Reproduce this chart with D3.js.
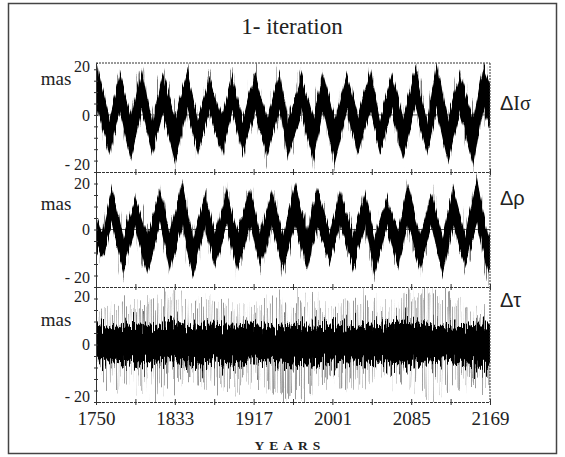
<!DOCTYPE html>
<html>
<head>
<meta charset="utf-8">
<script src="https://cdn.jsdelivr.net/npm/d3@7"></script>
<style>
  body { margin: 0; background: #fff; }
  svg text { font-family: "Liberation Serif", "DejaVu Serif", serif; fill: #222; }
</style>
</head>
<body>
<svg id="chart"></svg>
<script>
// ---- values ----
// panel 1 (ΔIσ): turning points of the band, top and bottom edge of the black band (mas)
const isYears = [1750, 1752, 1764, 1775.5, 1787, 1799, 1809.5, 1821, 1834, 1847, 1858.5, 1871, 1884, 1895.5, 1906, 1919, 1932,
  1945.5, 1954, 1969, 1981, 1991.5, 2004, 2017, 2028.5, 2041.5, 2052, 2065, 2076.5, 2089.5, 2102, 2112.5, 2124.5, 2137, 2151, 2161.5, 2169];
const isTop = [12, 16, -1.5, 14.5, -1, 16, -2, 15, -1, 15.5, -1.5, 13, -0.5, 14, -1.5, 15.5, -1,
  16, -2, 14, -1, 15, -1.5, 14, -0.5, 16, -1.5, 15, -1, 16, -2, 18.5, -1, 15, -1.5, 17, 10];
const isBot = [-2, 1.5, -14, 1, -16, 2, -14, 0.5, -17, 1.5, -14, 1, -14, 1.5, -14, 1, -14.5,
  2, -15, 0.5, -16.5, 1.5, -17, 1, -14, 1.5, -13.5, 1, -16, 2, -14, 1.5, -17, 1, -18, 2, -6];

// panel 2 (Δρ)
const rhoYears = [1750, 1756.4, 1767, 1778.7, 1791.5, 1804.2, 1818.1, 1828.7, 1841.5, 1853.2, 1865.9, 1876.6, 1889.3, 1900, 1913.8, 1924.4, 1937.2,
  1948.9, 1961.6, 1974.4, 1985, 1998.9, 2009.5, 2023.3, 2036.1, 2046.7, 2059.5, 2071.2, 2081.8, 2094.6, 2107.3, 2119, 2129.7, 2142.4, 2155.2, 2166.9, 2169];
const rhoTop = [6, -1, 15, -2.5, 11.5, -2, 14, -1, 17, -2.5, 13, -2, 14, -1, 15, -2, 14,
  -2.5, 16.5, -1, 15, -0.5, 14, -2, 13, -2.5, 11.5, -1, 16, -2, 12.5, -2.5, 15, -1, 18, -2, 0];
const rhoBot = [-5, -10, 1.5, -15.5, 1, -16, 2, -14, 1.5, -16, 1, -14, 1.5, -15, 2, -14, 1,
  -15, 1.5, -14, 1, -11.5, 2, -14, 1, -16, 1, -14, 1.5, -14, 1, -16, 1.5, -12.5, 2, -15, -13];

// panel 3 (Δτ): dense core and outer reach of the spikes
const tauYears = [1750, 1765, 1781, 1797, 1813, 1829, 1850, 1871, 1893, 1914, 1935, 1956, 1978, 1999, 2020, 2041, 2057, 2079, 2100, 2121, 2142, 2158, 2169];
const tauCoreTop = [7, 6, 6.5, 7, 6, 8, 6, 7, 6.5, 7, 6, 7, 6.5, 7, 6, 6.5, 7, 8, 7, 6, 6.5, 7, 7];
const tauCoreBot = [-6, -5.5, -6, -7, -6, -5.5, -6.5, -6, -7, -5.5, -6, -6.5, -7, -6, -5.5, -6, -6.5, -7, -6, -5.5, -6.5, -7, -7];
const tauSpikeTop = [9.7, 12.5, 13, 12.5, 15, 17, 14.6, 15.6, 13, 13, 15, 15, 16.3, 12, 15, 14.6, 12, 14.6, 18, 16.7, 13, 11, 11];
const tauSpikeBot = [-13, -13.9, -13.9, -14, -18, -13, -12, -13.2, -15, -12, -15.6, -18, -15.6, -12, -14.6, -13.2, -11, -12, -18, -15.6, -12, -13, -13];

// axes
const xTickYears = [1750, 1791.9, 1833.8, 1875.7, 1917.6, 1959.5, 2001.4, 2043.3, 2085.2, 2127.1, 2169];
const xTickLabels = ["1750", "", "1833", "", "1917", "", "2001", "", "2085", "", "2169"];
const yTicks = [-20, -16, -12, -8, -4, 0, 4, 8, 12, 16, 20];
const panelNames = ["ΔIσ", "Δρ", "Δτ"];

const width = 565, height = 457;
const serif = "'Liberation Serif', 'DejaVu Serif', serif";
const sans = "'Liberation Sans', 'DejaVu Sans', sans-serif";

const svg = d3.select("#chart").attr("width", width).attr("height", height)
  .style("font-family", serif);
const defs = svg.append("defs");

// filters that give the bands their noisy, spiky edges (vertical jitter per pixel column)
function jitter(id, scale, seed, streaks) {
  const f = defs.append("filter").attr("id", id)
    .attr("x", "-2%").attr("y", "-60%").attr("width", "104%").attr("height", "220%")
    .attr("color-interpolation-filters", "sRGB");
  f.append("feTurbulence").attr("type", "fractalNoise")
    .attr("baseFrequency", "0.9 0.006").attr("numOctaves", 2).attr("seed", seed).attr("result", "noise");
  f.append("feColorMatrix").attr("in", "noise").attr("type", "matrix")
    .attr("values", "0 0 0 0 0.5  0 1 0 0 0  0 0 0 0 0  0 0 0 0 1").attr("result", "dy");
  f.append("feDisplacementMap").attr("in", "SourceGraphic").attr("in2", "dy")
    .attr("scale", scale).attr("xChannelSelector", "R").attr("yChannelSelector", "G").attr("result", "moved");
  if (streaks) {
    f.append("feColorMatrix").attr("in", "noise").attr("type", "matrix")
      .attr("values", "0 0 0 0 0  0 0 0 0 0  0 0 0 0 0  0 0 5 0 -2.3").attr("result", "mask");
    f.append("feComposite").attr("in", "moved").attr("in2", "mask").attr("operator", "in");
  }
}
jitter("fuzzBlack", 22, 4, false);
jitter("fuzzGray", 60, 9, true);
jitter("fuzzCore", 34, 7, false);
jitter("fuzzSpike", 50, 2, true);

// outer frame
svg.append("rect")
  .attr("x", 8.5).attr("y", 3.5).attr("width", 548).attr("height", 450)
  .attr("fill", "none").attr("stroke", "#444").attr("stroke-width", 1.5);

svg.append("text")
  .attr("x", 292).attr("y", 34)
  .attr("text-anchor", "middle")
  .style("font-family", serif).style("font-size", "23px")
  .text("1- iteration");

const x = d3.scaleLinear().domain([1750, 2169]).range([96, 490]);

const panels = [
  { top: 63, bottom: 172, domain: [-20, 18.2], masY: 79, topLab: 66, botLab: 164, nameY: 103 },
  { top: 172, bottom: 287, domain: [-20, 20], masY: 204, topLab: 183, botLab: 277, nameY: 198 },
  { top: 287, bottom: 402, domain: [-20, 20], masY: 320, topLab: 296, botLab: 396, nameY: 300 }
];
panels.forEach(p => {
  p.y = d3.scaleLinear().domain(p.domain).range([p.bottom, p.top]);
});

function band(years, tops, bots) {
  return years.map((yr, i) => ({ year: yr, top: tops[i], bot: bots[i] }));
}

function areaFor(y) {
  return d3.area().x(d => x(d.year)).y0(d => y(d.bot)).y1(d => y(d.top));
}

panels.forEach((p, i) => {
  const g = svg.append("g");
  const y = p.y;

  defs.append("clipPath").attr("id", "clip" + i)
    .append("rect").attr("x", 96).attr("y", p.top)
    .attr("width", 394).attr("height", p.bottom - p.top);
  const dg = g.append("g").attr("clip-path", `url(#clip${i})`);

  // zero reference line
  dg.append("line")
    .attr("x1", 96).attr("x2", 490)
    .attr("y1", y(0)).attr("y2", y(0))
    .attr("stroke", "#555").attr("stroke-width", 1);

  if (i < 2) {
    const data = i === 0 ? band(isYears, isTop, isBot) : band(rhoYears, rhoTop, rhoBot);
    dg.append("path").datum(data).attr("d", areaFor(y))
      .attr("fill", "#777").attr("filter", "url(#fuzzGray)");
    dg.append("path").datum(data).attr("d", areaFor(y))
      .attr("fill", "#000").attr("filter", "url(#fuzzBlack)");
  } else {
    const spikes = band(tauYears, tauSpikeTop, tauSpikeBot);
    const core = band(tauYears, tauCoreTop, tauCoreBot);
    dg.append("path").datum(spikes).attr("d", areaFor(y))
      .attr("fill", "#999").attr("filter", "url(#fuzzSpike)");
    dg.append("path").datum(core).attr("d", areaFor(y))
      .attr("fill", "#111").attr("filter", "url(#fuzzGray)");
    dg.append("path").datum(core).attr("d", areaFor(y))
      .attr("fill", "#000").attr("filter", "url(#fuzzCore)");
  }

  // frame: dotted right side (and top for the first panel)
  g.append("line")
    .attr("x1", 490).attr("x2", 490).attr("y1", p.top).attr("y2", p.bottom)
    .attr("stroke", "#333").attr("stroke-dasharray", "2,1");
  if (i === 0) {
    g.append("line")
      .attr("x1", 96).attr("x2", 490).attr("y1", p.top).attr("y2", p.top)
      .attr("stroke", "#333").attr("stroke-dasharray", "2,1");
  }

  // left axis with small crossing ticks
  const left = g.append("g").attr("transform", "translate(96,0)")
    .call(d3.axisLeft(y).tickValues(yTicks.filter(v => v >= p.domain[0] && v <= p.domain[1]))
      .tickSize(-2).tickFormat(""));
  left.select(".domain").attr("stroke", "#333");
  left.selectAll(".tick line").clone().attr("x2", -2);
  left.selectAll(".tick line").attr("stroke", "#333");

  // bottom axis
  const bottom = g.append("g").attr("transform", `translate(0,${p.bottom})`)
    .call(d3.axisBottom(x).tickValues(xTickYears).tickSize(3).tickPadding(7)
      .tickFormat((d, k) => i === 2 ? xTickLabels[k] : ""));
  bottom.select(".domain").attr("stroke", "#333").attr("stroke-dasharray", "3,1");
  bottom.selectAll(".tick line").attr("stroke", "#333").attr("y1", -3);
  bottom.selectAll("text")
    .style("font-size", "19px").style("font-family", serif).attr("fill", "#222");

  // y labels
  const lab = g.append("g").attr("text-anchor", "end");
  [["20", p.topLab], ["0", y(0)], ["- 20", p.botLab]].forEach(([t, ty]) => {
    lab.append("text").attr("x", 90).attr("y", ty).attr("dy", "0.35em")
      .style("font-family", serif).style("font-size", "16px").text(t);
  });
  g.append("text").attr("x", 56).attr("y", p.masY).attr("dy", "0.33em")
    .attr("text-anchor", "middle")
    .style("font-family", serif).style("font-size", "19px").text("mas");

  // series name on the right
  const name = g.append("text").attr("x", 500).attr("y", p.nameY).attr("dy", "0.35em")
    .style("font-size", "20px");
  name.append("tspan").style("font-family", sans).text(panelNames[i][0]);
  name.append("tspan")
    .style("font-family", i === 0 ? serif : sans)
    .text(panelNames[i].slice(1));
});

svg.append("text")
  .attr("x", 290).attr("y", 450)
  .attr("text-anchor", "middle")
  .style("font-family", serif)
  .style("font-size", "13.5px").style("font-weight", "bold").style("letter-spacing", "5px")
  .text("YEARS");
</script>
</body>
</html>
